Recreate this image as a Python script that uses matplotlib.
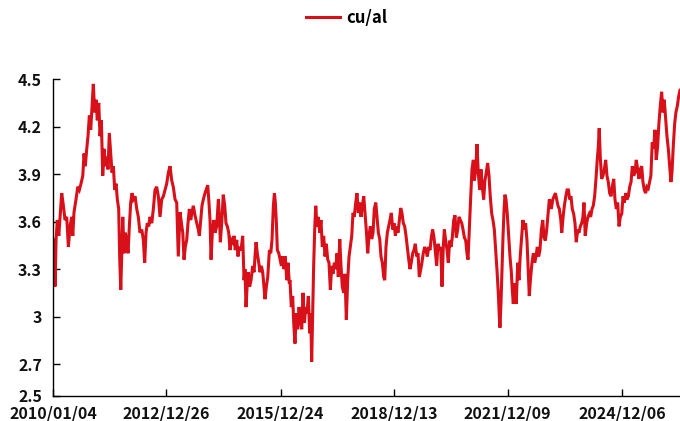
import matplotlib
matplotlib.use("Agg")
import matplotlib.pyplot as plt
import pandas as pd

plt.rcParams['font.family'] = ['Noto Sans CJK SC', 'DejaVu Sans']

series_name = "cu/al"
start_date = "2010-01-04"

# days elapsed since start_date for each reading
days = [
    0, 10, 19, 29, 41, 55, 67, 83, 99, 115, 131, 147, 163, 179, 189, 201, 220, 237, 252, 268,
    285, 297, 309, 323, 335, 348, 361, 374, 386, 399, 412, 424, 438, 450, 463, 476, 489, 501, 514, 527,
    539, 553, 565, 578, 591, 604, 616, 629, 639, 649, 658, 668, 680, 693, 706, 719, 731, 744, 757, 769,
    786, 802, 817, 833, 850, 865, 878, 891, 903, 917, 929, 946, 961, 977, 993, 1009, 1025, 1041, 1057, 1073,
    1089, 1105, 1121, 1137, 1152, 1169, 1185,
    1200, 1217, 1233, 1243, 1255, 1267, 1281, 1293, 1306, 1319, 1332, 1344, 1360, 1377, 1392, 1402, 1415, 1427, 1440, 1456,
    1472, 1482, 1494, 1504, 1514, 1526, 1540, 1552, 1568, 1584, 1593, 1603, 1616, 1631, 1645, 1657, 1670, 1683, 1696, 1708,
    1722, 1734, 1746, 1760, 1772, 1785, 1801, 1817, 1830, 1839, 1849, 1861, 1871, 1884, 1897, 1913, 1926, 1935, 1945, 1957,
    1971, 1983, 1996, 2009, 2021, 2031, 2044, 2057, 2073, 2086, 2098, 2111, 2121, 2130, 2140, 2149, 2163, 2175, 2188, 2200,
    2213, 2225, 2239, 2251, 2264,
    2270, 2283, 2296, 2306, 2318, 2331, 2344, 2357, 2369, 2383, 2395, 2408, 2421, 2433, 2446, 2459, 2469, 2478, 2488, 2497,
    2507, 2517, 2529, 2542, 2555, 2567, 2580, 2593, 2606, 2618, 2632, 2644, 2657, 2670, 2682, 2695, 2708, 2721, 2733, 2747,
    2759, 2771, 2785, 2797, 2810, 2823, 2836, 2848, 2862, 2874, 2886, 2900, 2912, 2925, 2938, 2951, 2963, 2977, 2989, 3001,
    3015, 3027, 3040, 3053, 3066, 3078, 3092, 3104, 3117, 3130, 3142, 3155, 3168, 3178, 3190, 3203, 3216, 3228, 3241, 3255,
    3267, 3280, 3293, 3305, 3318, 3331, 3343, 3356, 3369, 3382, 3394, 3408, 3420, 3432, 3446, 3458, 3471, 3484, 3497, 3509,
    3532, 3547, 3561, 3573, 3586, 3599, 3612, 3624, 3637, 3650, 3662, 3676, 3688, 3701, 3714, 3727, 3739, 3749, 3762, 3775,
    3787, 3800, 3813, 3825, 3839, 3851, 3864, 3877, 3890, 3902, 3916, 3928, 3941, 3954, 3966, 3976, 3988, 4002, 4014, 4027,
    4036, 4050, 4062, 4074, 4088, 4100, 4113, 4126, 4138, 4151, 4164, 4177, 4189, 4203, 4215, 4228, 4241, 4254, 4266, 4276,
    4282, 4292, 4301, 4311, 4321, 4330, 4340, 4352, 4366, 4378, 4390, 4400, 4410, 4419, 4429, 4438, 4452, 4464, 4476, 4490,
    4502, 4515, 4528, 4541, 4553, 4563, 4576, 4589, 4602, 4615, 4627, 4640, 4653, 4665, 4679, 4692, 4704, 4717, 4730, 4743,
    4755, 4774, 4788, 4800, 4813, 4826, 4838, 4851, 4865, 4874, 4887, 4899, 4913, 4925, 4938, 4950, 4962, 4975, 4988, 5001,
    5013, 5027, 5039, 5052, 5065, 5077, 5087, 5099, 5113, 5125, 5138, 5151, 5164, 5176, 5189, 5202, 5214, 5224, 5233, 5243,
    5256, 5269, 5282, 5295, 5307, 5320, 5333, 5346, 5358, 5372, 5384, 5397, 5410, 5423, 5435, 5449, 5461, 5474, 5487, 5499,
    5512, 5525, 5538, 5550, 5563, 5576, 5588, 5601, 5614, 5626, 5640, 5652, 5665, 5678, 5690, 5703, 5716, 5728, 5741, 5754,
    5767, 5779, 5792, 5805, 5818, 5831, 5844, 5856, 5870, 5882, 5895, 5908, 5920, 5930, 5942, 5956, 5968, 5981, 5994, 6007,
]

values = [
    3.485, 3.38, 3.19, 3.485, 3.61, 3.51, 3.63, 3.78, 3.70, 3.61, 3.63, 3.44, 3.57, 3.63, 3.51, 3.66, 3.74, 3.82, 3.80, 3.84,
    3.89, 4.03, 3.95, 4.06, 4.14, 4.27, 4.18, 4.33, 4.47, 4.29, 4.37, 4.24, 4.35, 4.14, 4.24, 3.89, 4.06, 3.95, 4.01, 3.93,
    4.16, 4.03, 3.91, 3.95, 3.80, 3.84, 3.74, 3.68, 3.36, 3.17, 3.40, 3.63, 3.40, 3.53, 3.47, 3.40, 3.57, 3.72, 3.78, 3.74,
    3.76, 3.68, 3.63, 3.53, 3.55, 3.485, 3.34, 3.53, 3.59, 3.57, 3.63, 3.59, 3.68, 3.80, 3.82, 3.76, 3.63, 3.74, 3.76, 3.80,
    3.84, 3.91, 3.95, 3.86, 3.82, 3.74, 3.72,
    3.38, 3.66, 3.575, 3.53, 3.36, 3.44, 3.485, 3.59, 3.68, 3.61, 3.66, 3.70, 3.64, 3.59, 3.55, 3.51, 3.61, 3.70, 3.74, 3.78,
    3.81, 3.83, 3.72, 3.61, 3.36, 3.53, 3.61, 3.53, 3.57, 3.74, 3.64, 3.47, 3.59, 3.77, 3.70, 3.59, 3.57, 3.53, 3.42, 3.485,
    3.47, 3.51, 3.42, 3.485, 3.38, 3.44, 3.42, 3.51, 3.23, 3.30, 3.06, 3.21, 3.28, 3.19, 3.23, 3.32, 3.28, 3.38, 3.47, 3.40,
    3.34, 3.28, 3.32, 3.28, 3.19, 3.11, 3.19, 3.25, 3.42, 3.40, 3.485, 3.70, 3.78, 3.72, 3.59, 3.42, 3.40, 3.36, 3.32, 3.38,
    3.30, 3.38, 3.23, 3.34, 3.21,
    3.23, 3.06, 3.13, 2.96, 2.83, 3.02, 2.92, 3.06, 2.975, 2.92, 3.15, 2.96, 3.06, 3.02, 3.13, 2.895, 3.02, 2.715, 3.02, 3.32,
    3.55, 3.70, 3.57, 3.63, 3.53, 3.61, 3.44, 3.51, 3.38, 3.46, 3.36, 3.34, 3.17, 3.32, 3.27, 3.34, 3.30, 3.40, 3.25, 3.49,
    3.32, 3.19, 3.15, 3.27, 2.98, 3.23, 3.38, 3.44, 3.51, 3.655, 3.63, 3.72, 3.78, 3.655, 3.72, 3.63, 3.70, 3.76, 3.655, 3.55,
    3.40, 3.51, 3.57, 3.49, 3.53, 3.68, 3.72, 3.63, 3.53, 3.49, 3.38, 3.34, 3.25, 3.23, 3.44, 3.53, 3.57, 3.61, 3.655, 3.55,
    3.59, 3.51, 3.57, 3.53, 3.61, 3.686, 3.655, 3.59, 3.57, 3.51, 3.44, 3.36, 3.30, 3.34, 3.40, 3.42, 3.46, 3.38, 3.40, 3.25,
    3.33, 3.40, 3.44, 3.42, 3.38, 3.44, 3.42, 3.50, 3.55, 3.50, 3.42, 3.32, 3.46, 3.42, 3.44, 3.19, 3.44, 3.55, 3.48, 3.42,
    3.34, 3.48, 3.44, 3.50, 3.61, 3.64, 3.50, 3.55, 3.63, 3.61, 3.59, 3.55, 3.50, 3.48, 3.40, 3.36, 3.55, 3.76, 3.93, 3.99,
    3.86, 3.93, 4.09, 3.91, 3.80, 3.93, 3.82, 3.74, 3.86, 3.91, 3.97, 3.89, 3.76, 3.65, 3.61, 3.55, 3.42, 3.29, 3.15, 3.00,
    2.93, 3.09, 3.29, 3.50, 3.67, 3.77, 3.74, 3.65, 3.50, 3.38, 3.29, 3.17, 3.08, 3.21, 3.13, 3.08, 3.34, 3.23, 3.38, 3.50,
    3.61, 3.55, 3.59, 3.48, 3.29, 3.13, 3.25, 3.34, 3.40, 3.34, 3.38, 3.44, 3.38, 3.42, 3.55, 3.61, 3.50, 3.48, 3.55, 3.65,
    3.74, 3.68, 3.74, 3.76, 3.78, 3.74, 3.70, 3.68, 3.61, 3.53, 3.63, 3.70, 3.76, 3.80, 3.80, 3.74, 3.76, 3.68, 3.65, 3.59,
    3.47, 3.55, 3.53, 3.57, 3.59, 3.63, 3.72, 3.51, 3.59, 3.63, 3.65, 3.63, 3.68, 3.70, 3.76, 3.87, 3.99, 4.07, 4.19, 4.01,
    3.87, 3.89, 3.93, 3.99, 3.89, 3.85, 3.78, 3.76, 3.82, 3.87, 3.74, 3.68, 3.72, 3.57, 3.63, 3.65, 3.76, 3.72, 3.78, 3.74,
    3.76, 3.82, 3.85, 3.95, 3.89, 3.91, 3.99, 3.93, 3.87, 3.93, 3.95, 3.85, 3.80, 3.78, 3.82, 3.81, 3.85, 3.89, 4.10, 4.06,
    4.18, 3.99, 4.07, 4.22, 4.33, 4.42, 4.29, 4.37, 4.25, 4.14, 4.06, 3.95, 3.85, 3.91, 4.07, 4.22, 4.29, 4.33, 4.39, 4.43,
]

tick_dates = ["2010/01/04", "2012/12/26", "2015/12/24", "2018/12/13", "2021/12/09", "2024/12/06"]
y_ticks = [2.5, 2.7, 3.0, 3.3, 3.6, 3.9, 4.2, 4.5]
y_tick_labels = ["2.5", "2.7", "3", "3.3", "3.6", "3.9", "4.2", "4.5"]

dates = pd.Timestamp(start_date) + pd.to_timedelta(days, unit="D")

fig = plt.figure(figsize=(6.8, 4.21), dpi=100)
ax = fig.add_axes([0.078, 0.060, 0.922, 0.752])

line, = ax.plot(dates, values, color="#D7101A", lw=2.2, label=series_name,
                solid_joinstyle="miter")

ax.set_xlim(dates[0], dates[-1])
ax.set_ylim(2.5, 4.5)
ax.set_yticks(y_ticks)
ax.set_yticklabels(y_tick_labels)
tpos = pd.to_datetime(tick_dates, format="%Y/%m/%d")
ax.set_xticks(tpos)
ax.set_xticklabels(tick_dates)

for s in ["top", "right"]:
    ax.spines[s].set_visible(False)
for s in ["left", "bottom"]:
    ax.spines[s].set_color("black")
    ax.spines[s].set_linewidth(1.0)

ax.tick_params(axis="both", direction="in", length=5, width=1.0, colors="black")
ax.tick_params(axis="y", pad=8)
ax.tick_params(axis="x", pad=7)
for lab in ax.get_xticklabels() + ax.get_yticklabels():
    lab.set_fontsize(11.5)
    lab.set_fontweight("bold")
    lab.set_color("#111111")
for lab in ax.get_yticklabels():
    lab.set_verticalalignment("center_baseline")

fig.legend(handles=[line], loc="center", bbox_to_anchor=(0.51, 0.957), frameon=False,
           prop={"size": 12, "weight": "bold"}, handlelength=2.0, handletextpad=0.4)

fig.savefig("out.png", dpi=100)
